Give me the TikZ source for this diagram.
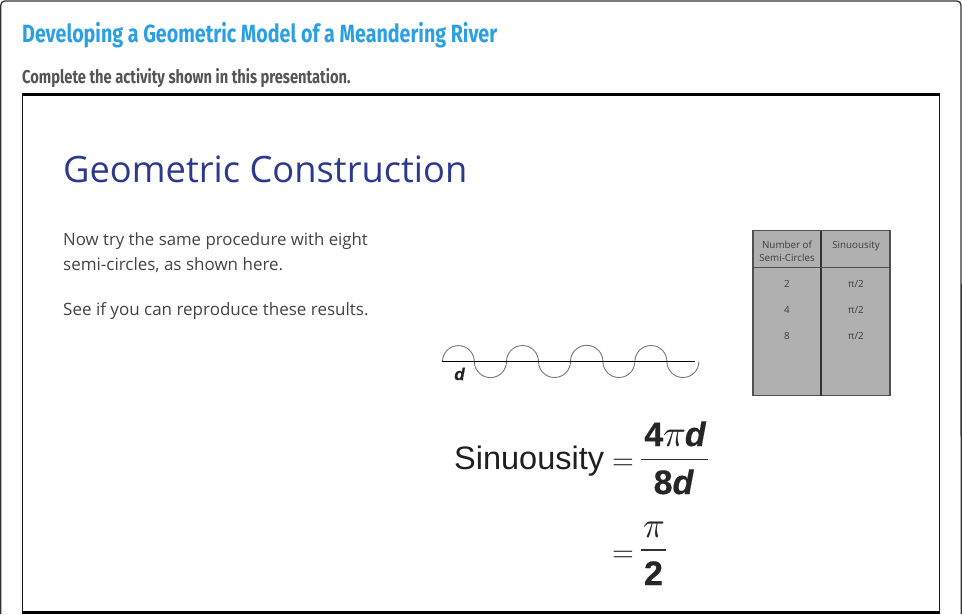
\documentclass[tikz,border=0pt]{standalone}
\usepackage{fontspec}
\setmainfont{Open Sans}
\newfontfamily\headfont[FakeStretch=0.79]{Fira Sans}
\newfontfamily\bodyfont{Open Sans}
\newfontfamily\formfont{Liberation Sans}
\newfontface\formbold[FakeBold=0.5]{Liberation Sans Bold}
\newfontface\formboldit[FakeBold=0.5]{Liberation Sans Bold Italic}
\newfontfamily\mathlikefont{Latin Modern Math}
\definecolor{titleblue}{HTML}{2A9FE3}
\definecolor{subgrey}{HTML}{555555}
\definecolor{slideblue}{HTML}{2B3A8C}
\definecolor{bodygrey}{HTML}{444444}
\definecolor{tablefill}{HTML}{B0B0B0}
\definecolor{tablegrey}{HTML}{505050}
\definecolor{tabletext}{HTML}{3C3C3C}
\definecolor{wavegrey}{HTML}{777777}
\tikzset{
  txt/.style={inner sep=0pt,anchor=base west},
  bodytext/.style={txt,text=bodygrey,font=\bodyfont\fontsize{16.8}{16.8}\selectfont},
  bodywide/.style={txt,text=bodygrey,font=\bodyfont\fontsize{17}{17}\selectfont},
  celltext/.style={inner sep=0pt,anchor=base,text=tabletext,font=\bodyfont\fontsize{9.8}{11}\selectfont},
  formula/.style={inner sep=0pt,text=black!88,font=\formfont\fontsize{32.5}{32.5}\selectfont},
  boldnum/.style={inner sep=0pt,anchor=base,text=black!85,font=\formbold\fontsize{34}{34}\selectfont},
  mathglyph/.style={inner sep=0pt,anchor=base,text=black!85,font=\mathlikefont\fontsize{36}{36}\selectfont},
  eqsign/.style={inner sep=0pt,anchor=base,text=black!85,font=\mathlikefont\fontsize{28}{28}\selectfont},
  fracrule/.style={line width=1.9pt,black!80},
}
\newcommand{\mypi}{{\mathlikefont\fontsize{38}{38}\selectfont\symbol{"1D70B}}}
\begin{document}
\begin{tikzpicture}[x=1pt,y=-1pt]
\useasboundingbox (0,0) rectangle (962,614);
\fill[white] (0,0) rectangle (962,614);
% outer card edge
\draw[line width=1.3pt,black!80] (0.8,614) -- (0.8,5) arc[start angle=180,end angle=270,radius=4] -- (957,1) arc[start angle=270,end angle=360,radius=4] -- (961.2,614);
% head
\node[txt,text=titleblue,font=\headfont\bfseries\fontsize{24.9}{24.9}\selectfont] (title) at (22,42) {Developing a Geometric Model of a Meandering River};
\node[txt,text=subgrey,font=\headfont\bfseries\fontsize{18.6}{18.6}\selectfont] (sub) at (22,83) {Complete the activity shown in this presentation.};
% slide frame
\draw[line width=1.2pt,black!90] (22.7,94) rectangle (939.5,612);
\draw[line width=2.6pt,black] (22,94.5) -- (940,94.5);
\draw[line width=2.6pt,black] (22,612.7) -- (940,612.7);
% slide text
\node[txt,text=slideblue,font=\bodyfont\fontsize{36.3}{36.3}\selectfont] (head) at (63,182) {Geometric Construction};
\node[bodytext] (b1) at (63,245) {Now try the same procedure with eight};
\node[bodywide] (b2) at (63,270) {semi-circles, as shown here.};
\node[bodywide] (b3) at (63,315) {See if you can reproduce these results.};
% wave
\draw[line width=0.9pt,wavegrey] (442.5,361.5)
  arc[start angle=180,end angle=360,radius=15.9]
  arc[start angle=180,end angle=0,radius=16.1]
  arc[start angle=180,end angle=360,radius=16]
  arc[start angle=180,end angle=0,radius=16]
  arc[start angle=180,end angle=360,radius=16.2]
  arc[start angle=180,end angle=0,radius=16]
  arc[start angle=180,end angle=360,radius=16]
  arc[start angle=180,end angle=0,radius=16];
\coordinate (ls) at (442,361.5);
\coordinate (le) at (695,361.5);
\draw[line width=0.9pt,black] (ls) -- (le);
\node[inner sep=0pt,anchor=base,text=black!85,font=\formboldit\fontsize{17}{17}\selectfont] (d) at (459.5,380) {d};
% table
\fill[tablefill] (753,230.5) rectangle (890,395.5);
\draw[line width=1.2pt,tablegrey] (753,230.5) rectangle (890,395.5);
\draw[line width=1.1pt,black!80] (821,230.5) -- (821,395.5);
\draw[line width=1.4pt,tablegrey] (753,267.5) -- (890,267.5);
\node[celltext] (h1a) at (787,248) {Number of};
\node[celltext] (h1b) at (787,261) {Semi-Circles};
\node[celltext] (h2) at (856,248) {Sinuousity};
\node[celltext] (n1) at (787,287.5) {2};
\node[celltext] (n2) at (787,313) {4};
\node[celltext] (n3) at (787,339) {8};
\node[celltext] (s1) at (856,287.5) {π/2};
\node[celltext] (s2) at (856,313) {π/2};
\node[celltext] (s3) at (856,339) {π/2};
% formula
\node[formula,anchor=base west] (sin) at (454,469) {Sinuousity};
\node[eqsign] (eq1) at (623,469) {=};
\node[boldnum] (num) at (675,446) {4\mypi{\formboldit\fontsize{34}{34}\selectfont d}};
\draw[fracrule] (641,459.5) -- (708,459.5);
\node[boldnum] (den) at (673.5,494) {8{\formboldit\fontsize{34}{34}\selectfont d}};
\node[eqsign] (eq2) at (623,561) {=};
\node[mathglyph] (p) at (653.5,537) {\symbol{"1D70B}};
\draw[fracrule] (641,550) -- (666,550);
\node[boldnum] (two) at (653.5,585) {2};
\end{tikzpicture}
\end{document}
